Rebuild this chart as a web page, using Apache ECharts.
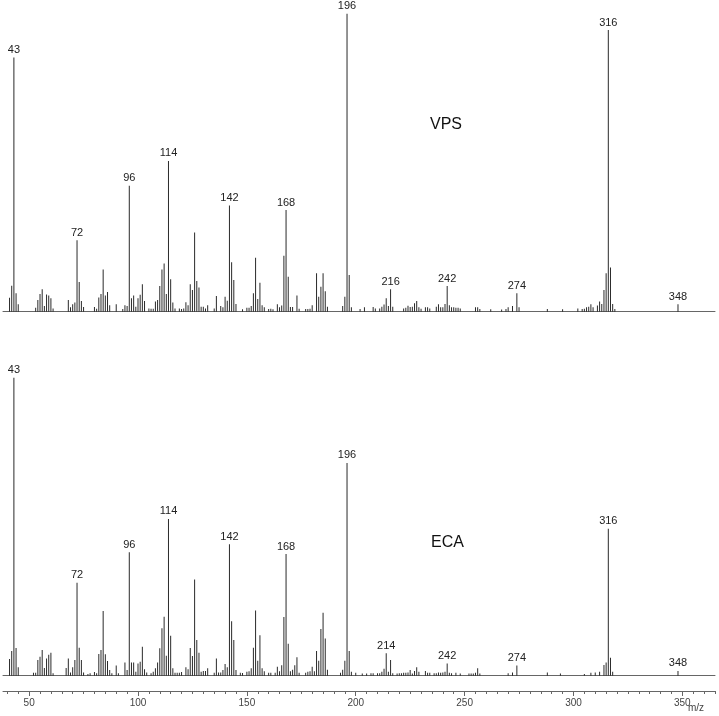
<!DOCTYPE html>
<html>
<head>
<meta charset="utf-8">
<script src="https://cdn.jsdelivr.net/npm/echarts@6/dist/echarts.min.js"></script>
<style>
html,body{margin:0;padding:0;background:#fff;}
#chart{width:719px;height:716px;}
</style>
</head>
<body>
<div id="chart"></div>
<script>
// ---- VPS spectrum (m/z, relative intensity %) ----
const vpsMz = [41,42,43,44,45,53,54,55,56,57,58,59,60,61,68,69,70,71,72,73,74,75,80,81,82,83,84,85,86,87,90,93,94,95,96,97,98,99,100,101,102,103,105,106,107,108,109,110,111,112,113,114,115,116,117,119,120,121,122,123,124,125,126,127,128,129,130,131,132,135,136,138,139,140,141,142,143,144,145,148,150,151,152,153,154,155,156,157,158,160,161,162,164,165,166,167,168,169,170,171,173,174,177,178,179,180,182,183,184,185,186,187,194,195,196,197,198,202,204,208,209,211,212,213,214,215,216,217,222,223,224,225,226,227,228,229,230,232,233,234,237,238,239,240,241,242,243,244,245,246,247,248,255,256,257,262,267,269,270,272,274,275,288,295,302,304,305,306,307,308,309,311,312,313,314,315,316,317,318,319,348];
const vpsInt = [4.7,8.7,85.3,6.2,2.5,1.3,3.9,5.9,7.5,1.9,5.8,5.4,4.5,1.1,3.9,1.5,2.5,3.1,24,10,3.6,1.6,1.6,1,4.8,5.9,14.2,5.4,6.6,2.2,2.5,0.9,2.2,1.9,42.3,4.5,5.4,1.7,4.5,5.7,9.2,3.6,1.1,1,1,3.4,3.9,8.6,14.2,16.2,5.9,50.6,10.9,3.1,1.1,1.1,0.9,1.1,3.2,2.2,9.2,7.3,26.6,10.3,8.1,1.7,1.7,1.1,2.2,1.1,5.3,1.9,1.5,5,3.7,35.6,16.6,10.6,2.6,0.8,1.3,1.3,1.9,6.2,18.1,4.3,9.7,2.2,1.5,0.9,1,0.8,2.5,1.5,2.1,18.8,34.1,11.7,1.6,1.6,5.4,1,0.9,0.9,1,2.2,12.9,5,8.4,12.9,6.9,1.7,1.9,5,100,12.3,1.5,0.9,1.5,1.6,1.1,1.1,1.7,2.4,4.5,1.9,7.5,1.7,1.1,1.3,2,1.6,1.7,2.8,3.6,1.5,1,1.5,1.5,1.1,1.7,2.5,1.5,1.5,2.6,8.6,2.2,1.5,1.5,1.3,1.3,1.1,1.5,1.5,0.9,0.8,0.7,0.9,1.5,1.9,6.2,1.5,0.9,0.8,1.1,0.9,1,1.5,1.7,2.5,1.5,2.1,3.4,2.6,7.3,12.9,94.5,14.8,2.6,0.9,2.5];
const vpsLabelled = [43,72,96,114,142,168,196,216,242,274,316,348];

// ---- ECA spectrum (m/z, relative intensity %) ----
const ecaMz = [41,42,43,44,45,52,53,54,55,56,57,58,59,60,61,67,68,69,70,71,72,73,74,75,77,78,80,81,82,83,84,85,86,87,88,90,91,94,95,96,97,98,99,100,101,102,103,104,106,107,108,109,110,111,112,113,114,115,116,117,118,119,120,122,123,124,125,126,127,128,129,130,131,132,135,136,137,138,139,140,141,142,143,144,145,147,148,150,151,152,153,154,155,156,157,158,160,161,163,164,165,166,167,168,169,170,171,172,173,174,177,178,179,180,181,182,183,184,185,186,187,193,194,195,196,197,198,200,203,205,207,208,210,211,212,213,214,215,216,217,219,220,221,222,223,224,225,226,227,228,229,232,233,234,236,237,238,239,240,241,242,243,244,246,248,252,253,254,255,256,257,270,272,274,288,294,305,308,310,312,314,315,316,317,318,348];
const ecaInt = [5.6,8.3,100,9.3,2.8,1,1,5.3,6.4,8.6,2.6,5.8,7,7.7,0.8,2.6,5.8,1.1,2.8,5.3,31.2,9.4,5.3,1.1,0.6,0.8,1.2,0.8,7.3,8.6,21.7,7.2,4.9,1.9,0.8,3.4,0.8,4.4,1.9,41.4,4.4,4.4,1.3,4.1,4.7,9.7,2.2,1.1,0.8,1.3,2.5,4.4,9.2,15.9,19.8,6.7,52.6,13.4,2.5,1,1,1,1.2,2.8,2.2,9.3,6.6,32.3,12,7.7,1.3,1.6,1.6,2.5,1,5.8,1.1,1.1,1.9,3.9,2.8,44.1,18.3,12,1.9,1,0.9,1.3,1.5,2.5,9.4,21.9,5,13.6,2.5,1.5,1,1,1,3,1.5,3.5,19.7,40.8,10.7,1.5,2,3.5,6.2,1,1,1.3,1.5,3,1.5,8.3,5,15.7,21.1,12.5,2,1,2,5,71.4,8.3,1.3,1,0.7,0.7,0.8,0.8,0.8,0.8,1.3,2.3,7.5,1.3,5.3,0.8,0.7,0.8,0.8,1,1,1.1,1.9,0.7,1.6,2.8,1.3,1.6,1,1,0.8,0.8,1.1,1,1.1,1.3,4.1,1,0.8,1,0.7,0.7,0.7,0.7,1,2.5,0.7,0.8,1.1,3.4,1.1,0.7,0.6,1,1.1,1.3,3.6,4.4,49.3,6,1.3,1.6];
const ecaLabelled = [43,72,96,114,142,168,196,214,242,274,316,348];

// ---- axis ----
const tickLabels = [50,100,150,200,250,300,350];
const minorTicks = [40,45,50,55,60,65,70,75,80,85,90,95,100,105,110,115,120,125,130,135,140,145,150,155,160,165,170,175,180,185,190,195,200,205,210,215,220,225,230,235,240,245,250,255,260,265,270,275,280,285,290,295,300,305,310,315,320,325,330,335,340,345,350,355,360,365];

const X_MIN = 38, X_MAX = 365;

function build(mz, inten, labelled) {
  return mz.map((m, i) => ({
    value: [m, inten[i]],
    label: { show: labelled.indexOf(m) >= 0 }
  }));
}

const chart = echarts.init(document.getElementById('chart'), null, {renderer: 'canvas'});
const font = 'Liberation Sans, Arial, sans-serif';

const panelAxis = (gi) => ({
  type: 'value', gridIndex: gi, min: X_MIN, max: X_MAX,
  axisLine: { show: true, onZero: false, lineStyle: { color: '#666', width: 1 } },
  axisTick: { show: false }, axisLabel: { show: false }, splitLine: { show: false }
});
const panelY = (gi) => ({
  type: 'value', gridIndex: gi, min: 0, max: 100, show: false,
  splitLine: { show: false }
});

const barSeries = (gi, data) => ({
  type: 'bar', xAxisIndex: gi, yAxisIndex: gi, data: data,
  barWidth: 1, itemStyle: { color: '#2a2a2a' },
  label: { position: 'top', distance: 2, fontSize: 11, fontFamily: font, color: '#222',
           formatter: p => p.value[0] },
  silent: true, animation: false
});

chart.setOption({
  animation: false,
  backgroundColor: '#fff',
  grid: [
    { left: 3, right: 4, top: 13.7, height: 298 },
    { left: 3, right: 4, top: 377.7, height: 298 },
    { left: 3, right: 4, top: 690, height: 1 },
    { left: 3, right: 4, top: 690, height: 1 }
  ],
  xAxis: [
    panelAxis(0),
    panelAxis(1),
    { type: 'value', gridIndex: 2, min: X_MIN, max: X_MAX,
      axisLine: { show: true, onZero: false, lineStyle: { color: '#666', width: 1 } },
      axisTick: { show: true, length: 3, lineStyle: { color: '#666' }, customValues: minorTicks },
      axisLabel: { show: false }, splitLine: { show: false } },
    { type: 'value', gridIndex: 3, min: X_MIN, max: X_MAX,
      axisLine: { show: false },
      axisTick: { show: true, length: 5, lineStyle: { color: '#666' }, customValues: tickLabels },
      axisLabel: { show: true, customValues: tickLabels, margin: 7, fontSize: 10, fontFamily: font, color: '#444' },
      splitLine: { show: false } }
  ],
  yAxis: [panelY(0), panelY(1), panelY(2), panelY(3)],
  series: [
    barSeries(0, build(vpsMz, vpsInt, vpsLabelled)),
    barSeries(1, build(ecaMz, ecaInt, ecaLabelled))
  ],
  graphic: [
    { type: 'text', left: 430, top: 117, style: { text: 'VPS', fontSize: 16, fontFamily: font, fill: '#111' } },
    { type: 'text', left: 431, top: 535, style: { text: 'ECA', fontSize: 16, fontFamily: font, fill: '#111' } },
    { type: 'text', left: 688, top: 703, style: { text: 'm/z', fontSize: 10, fontFamily: font, fill: '#444' } }
  ]
});
</script>
</body>
</html>
